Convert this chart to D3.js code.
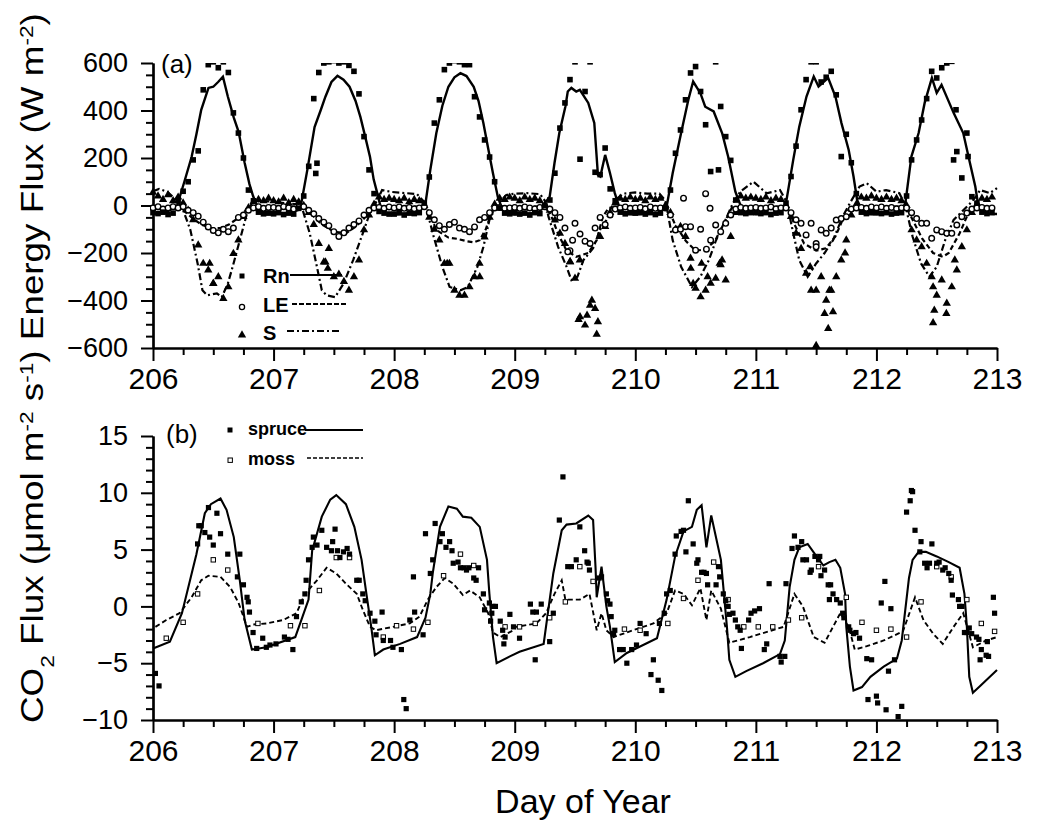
<!DOCTYPE html>
<html><head><meta charset="utf-8">
<script src="https://cdn.jsdelivr.net/npm/d3@7"></script>
<style>
body{margin:0;background:#fff}
svg{display:block}
text{font-family:"Liberation Sans",Arial,Helvetica,sans-serif;fill:#000}
</style>
</head><body>
<svg id="c" width="1041" height="821"></svg>
<script>
// ---------- DATA ----------
const days = [206,207,208,209,210,211,212];
const xTicks = [206,207,208,209,210,211,212,213];
const yTicksA = [-600,-400,-200,0,200,400,600];
const yTicksB = [-10,-5,0,5,10,15];

// Panel (a): hourly observations (index = hour of day)
const rnObs = [
 [-30,-34,-28,-38,-32,20,60,100,192,230,487,593,605,580,605,560,390,305,200,65,20,-28,-35,-32],
 [-35,-30,-38,-32,-36,-12,40,165,450,560,600,605,610,600,605,590,565,470,290,150,50,-25,-32,-36],
 [-36,-30,-40,-32,-34,-30,10,120,347,445,572,600,610,605,593,593,458,373,276,204,100,-10,-32,-35],
 [-30,-36,-32,-40,-30,-34,0,23,136,326,432,530,605,195,480,605,140,130,242,70,20,-28,-35,-30],
 [-32,-30,-36,-30,-38,-32,-10,65,220,318,445,558,585,480,340,143,605,417,290,190,23,-30,-34,-30],
 [-30,-34,-30,-38,-32,-30,10,122,250,403,530,605,605,520,540,565,466,206,300,180,50,-28,-34,-30],
 [-30,-34,-30,-36,-32,-30,40,192,276,360,450,565,537,580,600,607,227,116,305,37,10,-28,-34,-30]
];
const leObs = [
 [-10,-5,-15,-10,-5,-10,-5,-20,-30,-45,-70,-90,-105,-115,-100,-110,-95,-50,-40,-20,-10,-5,-12,-8],
 [-8,-12,-5,-10,-15,-8,-5,-20,-35,-55,-70,-85,-110,-130,-115,-95,-80,-65,-40,-20,-10,-8,-12,-6],
 [-10,-6,-12,-8,-14,-10,-5,-30,-60,-85,-100,-80,-70,-95,-100,-110,-90,-60,-50,-30,-10,-8,-12,-10],
 [-8,-12,-6,-10,-14,-8,-5,-15,-30,-50,-95,-190,-75,-120,-150,-160,-95,-50,-80,-40,-15,-10,-6,-12],
 [-10,-8,-14,-6,-12,-10,-10,-40,-103,-100,-89,-89,-188,-100,50,-146,-82,-110,-75,-40,-15,-8,-12,-10],
 [-8,-12,-10,-6,-14,-10,-10,-30,-60,-75,-124,-75,-160,-103,-117,-95,-61,-55,-47,-15,-10,-8,-12,-6],
 [-10,-6,-12,-8,-14,-10,-10,-30,-55,-75,-75,-138,-103,-110,-117,-117,-82,-47,-32,-15,-10,-8,-12,-10]
];
const sObs = [
 [55,40,25,45,20,35,10,-20,-60,-167,-244,-272,-329,-300,-392,-343,-202,-146,-47,-10,15,25,20,30],
 [20,15,30,10,25,15,0,-30,-80,-160,-238,-181,-300,-290,-320,-357,-300,-230,-103,-40,5,35,25,30],
 [25,20,30,15,25,20,0,-50,-100,-146,-244,-244,-357,-378,-378,-343,-300,-244,-133,-50,5,30,25,35],
 [30,20,35,25,30,20,0,-20,-61,-117,-160,-237,-307,-469,-504,-420,-434,-131,-89,-30,10,30,25,35],
 [25,30,20,35,25,30,0,-30,-100,-89,-131,-222,-349,-385,-357,-328,-307,-250,-314,-131,-30,40,30,35],
 [30,25,35,20,30,25,0,-47,-117,-181,-286,-357,-357,-300,-399,-357,-300,-230,-146,-40,5,35,30,40],
 [30,25,35,25,30,20,0,-103,-146,-174,-244,-300,-378,-314,-412,-343,-272,-174,-103,-30,5,30,25,35]
];
// extra (off-hour) observations
const rnExtra = [[207.35,135],[207.36,178],[210.69,150],[212.64,192],[212.66,403],[212.76,206]];
const leExtra = [[210.4,31],[210.62,-12],[210.59,-184],[209.44,-195],[209.48,-146],[211.5,-174]];
const sExtra = [[206.5,-329],[206.47,-244],[207.43,-238],[207.45,-265],[208.44,-244],[208.71,-300],
 [209.46,-237],[209.54,-230],[209.53,-480],[209.6,-462],[209.64,-399],[209.68,-542],[209.69,-490],
 [210.46,-265],[210.48,-329],[210.55,-244],[210.6,-300],[210.7,-244],[210.72,-230],
 [211.45,-258],[211.5,-590],[211.57,-455],[211.6,-518],[211.61,-357],[211.64,-448],[211.74,-200],
 [212.47,-494],[212.48,-441],[212.47,-343],[212.58,-455],[212.65,-230]];

// Panel (a): model lines
const rnModel = [[206.0,-35],[206.1,-32],[206.2,0],[206.26,100],[206.32,204],[206.36,300],[206.4,403],[206.46,495],[206.5,500],[206.54,520],[206.58,542],[206.62,460],[206.67,370],[206.71,310],[206.76,180],[206.8,90],[206.83,40],[206.87,-10],[206.92,-32],[207.0,-36],[207.1,-33],[207.2,-20],
 [207.23,10],[207.28,150],[207.34,330],[207.39,400],[207.43,458],[207.48,520],[207.53,546],[207.58,530],[207.63,500],[207.68,440],[207.72,373],[207.76,290],[207.8,204],[207.83,110],[207.86,52],[207.89,-10],[207.93,-35],[208.0,-38],[208.1,-35],[208.2,-25],
 [208.26,10],[208.3,150],[208.35,305],[208.4,420],[208.45,500],[208.5,540],[208.55,557],[208.6,545],[208.66,500],[208.7,440],[208.74,347],[208.78,240],[208.82,135],[208.86,36],[208.9,-20],[208.95,-35],[209.0,-38],[209.1,-35],[209.2,-30],
 [209.25,10],[209.29,37],[209.33,179],[209.37,305],[209.42,416],[209.44,480],[209.47,495],[209.51,480],[209.54,487],[209.61,432],[209.66,348],[209.69,129],[209.71,122],[209.75,213],[209.79,137],[209.83,52],[209.87,-10],[209.92,-35],[210.0,-37],[210.1,-34],[210.2,-30],
 [210.26,-5],[210.31,136],[210.38,305],[210.44,445],[210.48,522],[210.54,473],[210.58,416],[210.65,396],[210.72,305],[210.77,206],[210.83,58],[210.87,5],[210.92,-30],[211.0,-36],[211.1,-34],[211.2,-28],
 [211.25,10],[211.31,192],[211.36,332],[211.42,459],[211.48,543],[211.52,501],[211.6,537],[211.66,459],[211.71,347],[211.77,234],[211.81,122],[211.84,23],[211.88,-20],[211.93,-35],[212.0,-37],[212.1,-34],[212.2,-28],
 [212.24,10],[212.29,206],[212.35,305],[212.4,432],[212.46,537],[212.5,474],[212.54,508],[212.64,390],[212.72,305],[212.77,192],[212.82,80],[212.84,15],[212.88,-25],[212.94,-35],[213.0,-36]];
const leModel = [[206.0,-10],[206.1,-8],[206.2,0],[206.25,-20],[206.32,-50],[206.4,-80],[206.48,-95],[206.56,-95],[206.63,-80],[206.7,-55],[206.76,-25],[206.8,-5],[206.9,-5],[207.0,-6],[207.1,-5],[207.2,-5],
 [207.23,0],[207.3,-30],[207.4,-80],[207.5,-110],[207.6,-117],[207.68,-90],[207.75,-55],[207.8,-25],[207.85,-5],[208.0,-6],[208.1,-5],[208.2,-5],
 [208.26,0],[208.3,-40],[208.35,-103],[208.45,-135],[208.52,-140],[208.6,-150],[208.66,-155],[208.71,-146],[208.76,-100],[208.8,-40],[208.85,-5],[209.0,-6],[209.1,-5],[209.2,-5],
 [209.25,0],[209.3,-40],[209.36,-120],[209.43,-190],[209.51,-216],[209.61,-200],[209.68,-146],[209.73,-47],[209.78,-10],[209.9,-5],[210.0,-6],[210.1,-5],[210.2,-5],
 [210.26,0],[210.33,-80],[210.42,-150],[210.5,-190],[210.58,-185],[210.66,-150],[210.74,-70],[210.8,-10],[210.9,-5],[211.0,-6],[211.1,-5],[211.2,-5],
 [211.26,0],[211.32,-80],[211.4,-160],[211.5,-190],[211.58,-180],[211.66,-130],[211.72,-60],[211.78,-10],[211.9,-5],[212.0,-6],[212.1,-5],[212.2,-5],
 [212.24,0],[212.3,-60],[212.38,-140],[212.47,-200],[212.55,-216],[212.6,-200],[212.69,-117],[212.75,-47],[212.8,-10],[212.9,-5],[213.0,-6]];
const sModel = [[206.0,60],[206.05,70],[206.12,57],[206.2,20],[206.25,-20],[206.31,-103],[206.37,-244],[206.41,-357],[206.45,-378],[206.53,-370],[206.57,-386],[206.62,-330],[206.66,-259],[206.72,-146],[206.78,-32],[206.82,10],[206.9,20],[207.0,15],[207.1,10],[207.2,5],
 [207.23,0],[207.3,-117],[207.36,-259],[207.4,-357],[207.44,-378],[207.51,-386],[207.58,-329],[207.66,-230],[207.74,-117],[207.8,-30],[207.86,23],[207.9,65],[207.98,57],[208.1,52],[208.19,48],[208.24,20],
 [208.26,5],[208.32,-117],[208.4,-259],[208.46,-343],[208.55,-357],[208.61,-343],[208.69,-259],[208.74,-175],[208.79,-61],[208.85,0],[208.93,44],[209.0,50],[209.1,52],[209.21,48],
 [209.25,20],[209.28,-47],[209.36,-174],[209.43,-258],[209.47,-314],[209.52,-300],[209.57,-230],[209.65,-180],[209.71,-100],[209.76,-61],[209.8,-10],[209.85,30],[209.9,50],[210.0,55],[210.1,50],[210.2,50],[210.25,20],
 [210.26,-5],[210.31,-146],[210.38,-258],[210.47,-343],[210.54,-300],[210.61,-230],[210.67,-146],[210.76,-47],[210.81,10],[210.87,58],[210.98,100],[211.09,51],[211.2,65],[211.25,20],
 [211.27,-19],[211.31,-117],[211.36,-230],[211.43,-300],[211.5,-244],[211.57,-200],[211.64,-146],[211.72,-47],[211.78,10],[211.86,80],[211.92,94],[212.0,58],[212.08,65],[212.19,52],[212.24,0],
 [212.3,-131],[212.37,-244],[212.44,-300],[212.5,-258],[212.57,-146],[212.64,-61],[212.72,-20],[212.78,10],[212.83,40],[212.86,65],[212.94,52],[213.0,73]];

// Panel (b): CO2 flux
const spruceModel = [[206.0,-3.7],[206.14,-3.1],[206.24,-0.6],[206.36,4.6],[206.43,8.2],[206.48,9.0],[206.56,9.5],[206.61,8.5],[206.67,6.1],[206.72,2.3],[206.76,-1.2],[206.82,-3.8],[206.94,-3.6],[207.18,-2.7],[207.23,-1.2],[207.29,0.6],[207.32,4.9],[207.4,7.9],[207.47,9.4],[207.52,9.8],[207.6,9.0],[207.67,7.0],[207.73,4.1],[207.77,1.1],[207.81,-1.8],[207.84,-4.3],[207.91,-3.8],[208.05,-3.3],[208.19,-2.7],[208.26,-1.0],[208.3,1.1],[208.32,2.9],[208.38,7.0],[208.45,8.8],[208.52,8.6],[208.57,7.9],[208.64,7.8],[208.71,7.0],[208.77,4.1],[208.79,1.1],[208.82,-2.7],[208.85,-5.0],[208.96,-4.4],[209.04,-4.0],[209.24,-3.3],[209.32,2.9],[209.39,6.7],[209.43,7.2],[209.51,7.3],[209.61,8.0],[209.65,7.6],[209.67,3.5],[209.68,0.8],[209.72,3.5],[209.76,0],[209.79,-1.8],[209.83,-4.9],[209.93,-4.1],[210.18,-2.8],[210.26,0.6],[210.33,4.4],[210.4,6.6],[210.47,7.0],[210.51,8.5],[210.55,8.9],[210.59,5.2],[210.63,8.0],[210.71,4.1],[210.76,-1.8],[210.78,-4.7],[210.83,-6.2],[210.92,-5.7],[211.06,-5.0],[211.2,-4.2],[211.24,-3.0],[211.28,1.7],[211.32,4.1],[211.36,5.2],[211.43,5.5],[211.49,4.6],[211.56,3.6],[211.61,3.9],[211.66,4.1],[211.7,3.4],[211.74,1.1],[211.75,-1.8],[211.78,-5.3],[211.81,-7.4],[211.88,-7.1],[211.95,-6.2],[212.06,-5.3],[212.17,-4.6],[212.21,-3.0],[212.27,2.5],[212.3,4.1],[212.35,4.8],[212.41,4.8],[212.5,4.4],[212.6,3.9],[212.69,3.4],[212.73,1.1],[212.75,-1.8],[212.77,-6.2],[212.8,-7.6],[212.86,-7.0],[212.93,-6.3],[213.0,-5.6]];
const mossModel = [[206.02,-1.8],[206.11,-1.2],[206.22,-0.6],[206.32,0.8],[206.4,2.3],[206.46,2.7],[206.56,2.6],[206.64,1.7],[206.71,0.3],[206.78,-1.8],[206.83,-1.6],[206.94,-1.5],[207.08,-1.2],[207.19,-0.6],[207.26,1.1],[207.36,2.3],[207.44,3.4],[207.52,2.9],[207.6,2.0],[207.69,1.1],[207.74,-0.3],[207.8,-1.8],[207.85,-2.1],[207.99,-1.8],[208.13,-1.5],[208.21,-0.9],[208.28,0.6],[208.35,1.7],[208.42,2.5],[208.49,2.0],[208.57,1.0],[208.63,1.4],[208.71,0.8],[208.78,-0.6],[208.82,-2.3],[208.88,-2.7],[208.99,-2.1],[209.01,-1.8],[209.18,-1.5],[209.26,-0.6],[209.33,1.1],[209.39,2.3],[209.42,0.6],[209.54,0.6],[209.62,1.1],[209.68,-2.1],[209.72,-0.6],[209.76,-2.1],[209.82,-2.7],[209.98,-2.1],[210.15,-1.5],[210.26,-0.6],[210.33,1.4],[210.4,1.1],[210.47,0.1],[210.54,1.6],[210.59,-1.2],[210.63,1.4],[210.71,-0.2],[210.78,-3.2],[210.95,-2.7],[211.23,-1.8],[211.32,1.1],[211.39,0],[211.48,-2.7],[211.57,-3.2],[211.7,-0.6],[211.77,-1.8],[211.82,-3.8],[211.92,-3.5],[212.06,-3.0],[212.22,-2.2],[212.32,0.8],[212.39,-1.2],[212.47,-2.4],[212.55,-3.3],[212.64,-1.8],[212.72,-0.6],[212.8,-3.6],[212.91,-3.0],[213.0,-2.7]];
const sprucePts = [[206.02,-5.9],[206.05,-7.0],[206.37,5.5],[206.38,7.1],[206.4,7.1],[206.43,6.5],[206.46,8.7],[206.47,6.1],[206.5,5.4],[206.53,8.2],[206.56,6.4],[206.62,4.6],[206.7,2.6],[206.72,4.6],[206.75,1.9],[206.78,0.8],[206.79,0.4],[206.8,-0.5],[206.83,-2.3],[206.86,-3.7],[206.91,-2.8],[206.94,-3.6],[206.97,-3.4],[207.02,-3.3],[207.09,-2.7],[207.12,-2.9],[207.16,-3.8],[207.19,-0.9],[207.23,0.4],[207.26,1.1],[207.27,2.3],
 [207.29,4.1],[207.32,5.2],[207.33,6.1],[207.36,5.4],[207.4,6.7],[207.44,5.2],[207.48,4.9],[207.49,5.7],[207.51,6.8],[207.53,4.9],[207.55,4.3],[207.58,4.8],[207.61,5.1],[207.63,4.6],[207.69,2.3],[207.71,2.3],[207.74,1.1],[207.76,0.5],[207.8,-0.6],[207.84,-1.3],[207.85,-2.5],[207.9,-0.5],[207.91,-3.0],[207.97,-3.0],[207.99,-3.6],[208.06,-3.8],[208.08,-8.2],[208.1,-9.0],[208.13,-1.2],[208.16,2.6],[208.17,-0.5],[208.24,-2.5],[208.26,6.4],
 [208.3,2.9],[208.32,4.1],[208.34,7.3],[208.38,5.7],[208.4,6.4],[208.43,5.2],[208.46,5.7],[208.48,4.9],[208.49,3.8],[208.53,3.9],[208.55,3.4],[208.58,3.4],[208.6,3.2],[208.62,3.4],[208.66,2.5],[208.68,2.3],[208.7,3.4],[208.74,1.1],[208.75,-0.3],[208.79,0.3],[208.8,-1.3],[208.81,-0.6],[208.82,0],[208.84,0],[208.88,-1.3],[208.9,-2.1],[208.91,-3.3],[208.92,-2.7],[208.96,-0.7],[208.99,-1.8],[209.04,-2.8],[209.13,0.2],[209.15,-0.5],[209.18,-0.5],[209.22,0.2],[209.17,-4.7],[209.29,-3.1],[209.32,-0.6],
 [209.37,7.6],[209.4,11.4],[209.44,3.5],[209.47,3.5],[209.51,4.1],[209.54,7.0],[209.58,4.9],[209.6,3.9],[209.61,3.8],[209.62,3.2],[209.7,2.5],[209.72,2.6],[209.76,1.1],[209.77,0.5],[209.79,0.2],[209.8,-0.9],[209.82,-2.4],[209.83,-2.1],[209.87,-3.8],[209.9,-3.8],[209.93,-5.0],[209.97,-3.8],[210.01,-3.4],[210.04,-1.5],[210.09,-2.4],[210.13,-6.0],[210.15,-4.7],[210.19,-6.5],[210.2,-1.5],[210.22,-7.4],[210.24,-0.6],[210.26,1.1],
 [210.29,1.4],[210.33,4.6],[210.34,6.2],[210.38,6.6],[210.4,6.7],[210.42,4.8],[210.44,9.3],[210.48,5.5],[210.51,3.8],[210.52,4.1],[210.55,3.0],[210.57,3.0],[210.59,2.9],[210.6,1.9],[210.67,1.9],[210.69,3.5],[210.7,2.6],[210.73,1.1],[210.75,0.5],[210.77,0],[210.78,-0.7],[210.81,-0.6],[210.83,-1.2],[210.85,-1.8],[210.87,-2.1],[210.88,-3.7],[210.94,-1.2],[210.96,-0.6],[210.99,-0.4],[211.03,-0.2],[211.07,-3.8],[211.09,-3.3],[211.11,2.0],[211.2,-4.4],[211.21,-4.9],[211.24,-4.4],[211.25,2.0],
 [211.3,5.1],[211.32,6.2],[211.35,5.2],[211.38,5.7],[211.39,4.1],[211.42,4.1],[211.45,3.0],[211.46,3.2],[211.49,4.4],[211.52,4.1],[211.53,4.4],[211.54,2.7],[211.57,3.2],[211.6,1.9],[211.62,1.9],[211.61,0.6],[211.64,1.1],[211.67,0.6],[211.7,0.3],[211.72,-0.6],[211.73,-1.0],[211.77,-1.8],[211.78,-2.1],[211.81,-2.4],[211.83,-2.3],[211.86,-2.8],[211.92,-4.6],[211.96,-4.7],[211.93,-8.2],[212.0,-7.9],[212.01,-8.5],[212.08,-9.1],[212.21,-8.8],[212.18,-9.7],[212.1,-5.7],[212.15,-4.7],[212.04,0.3],[212.07,2.2],[212.12,-0.2],
 [212.25,8.3],[212.28,9.3],[212.29,10.2],[212.3,10.1],[212.32,6.7],[212.36,4.8],[212.37,5.7],[212.4,3.8],[212.42,3.4],[212.44,3.8],[212.46,5.5],[212.5,3.8],[212.52,3.9],[212.55,3.2],[212.57,3.4],[212.6,2.9],[212.62,2.3],[212.63,1.0],[212.68,0.6],[212.69,0],[212.71,0],[212.73,-2.3],[212.75,-2.3],[212.77,-1.9],[212.79,-2.4],[212.83,-2.7],[212.85,-2.9],[212.86,-4.7],[212.87,-3.8],[212.91,-4.3],[212.93,-4.4],[212.92,-3.1],[212.97,0.8],[212.98,-0.6]];
const mossPts = [[206.11,-2.8],[206.25,-1.4],[206.37,1.1],[206.5,4.1],[206.62,3.2],[206.87,-1.5],[207.14,-1.7],[207.26,-1.7],[207.38,1.4],[207.52,4.3],[207.63,4.3],[207.91,-2.7],[208.02,-1.7],[208.16,-2.0],[208.28,-1.4],[208.41,2.7],[208.55,4.6],[208.66,3.6],[208.92,-1.8],[209.04,-1.8],[209.17,-1.5],[209.29,-1.0],[209.42,0.4],[209.54,3.5],[209.65,2.2],[209.91,-2.0],[210.04,-2.1],[210.27,-1.5],[210.4,0.7],[210.52,2.3],[210.65,3.9],[210.77,0.6],[210.9,-1.8],[211.02,-1.8],[211.14,-1.8],[211.27,-1.2],[211.38,-1.0],[211.52,3.5],[211.75,0.8],[211.88,-1.4],[212.0,-2.1],[212.12,-2.0],[212.25,-2.7],[212.37,0.4],[212.5,3.5],[212.62,2.6],[212.75,0.6],[212.87,-1.5],[212.98,-2.2]];

// ---------- DRAW ----------
const svg = d3.select('#c');
const x = d3.scaleLinear().domain([206,213]).range([153,997]);
const ya = d3.scaleLinear().domain([-600,600]).range([348,63]);
const yb = d3.scaleLinear().domain([-10,15]).range([720,436]);

function hourly(rows){
  return rows.flatMap((r,i)=>r.map((v,h)=>v==null?null:[days[i]+h/24,v]).filter(Boolean));
}

const defs = svg.append('defs');
defs.append('clipPath').attr('id','clipA').append('rect').attr('x',150).attr('y',63).attr('width',850).attr('height',290);
defs.append('clipPath').attr('id','clipB').append('rect').attr('x',150).attr('y',436).attr('width',850).attr('height',290);

function drawAxes(y, yMajor, yMinorStep, yDomain, axisY){
  const g = svg.append('g');
  const minorX = d3.range(206,213.001,0.25).filter(v=>Math.abs(v-Math.round(v))>1e-6);
  g.append('g').attr('transform',`translate(0,${axisY})`)
    .call(d3.axisBottom(x).tickValues(minorX).tickFormat('').tickSize(7).tickSizeOuter(0));
  const gx = g.append('g').attr('transform',`translate(0,${axisY})`)
    .call(d3.axisBottom(x).tickValues(xTicks).tickFormat(d3.format('d')).tickSize(13).tickPadding(7).tickSizeOuter(0));
  gx.selectAll('text').attr('font-size',30).attr('font-family','"Liberation Sans",Arial,sans-serif');
  const minorY = d3.range(yDomain[0],yDomain[1]+1e-6,yMinorStep).filter(v=>!yMajor.includes(v));
  g.append('g').attr('transform','translate(153,0)')
    .call(d3.axisLeft(y).tickValues(minorY).tickFormat('').tickSize(7).tickSizeOuter(0));
  const gy = g.append('g').attr('transform','translate(153,0)')
    .call(d3.axisLeft(y).tickValues(yMajor).tickFormat(d3.format('d')).tickSize(12).tickPadding(13).tickSizeOuter(0));
  gy.selectAll('text').attr('font-size',27).attr('font-family','"Liberation Sans",Arial,sans-serif');
  g.selectAll('.domain').attr('stroke','#000').attr('stroke-width',2.2);
  g.selectAll('.tick line').attr('stroke','#000').attr('stroke-width',2);
  return g;
}
drawAxes(ya, yTicksA, 50, [-600,600], 348);
drawAxes(yb, yTicksB, 1, [-10,15], 720);

// ---- panel a ----
const pa = svg.append('g').attr('clip-path','url(#clipA)');
const lineA = d3.line().x(d=>x(d[0])).y(d=>ya(d[1]));
pa.append('path').datum(sModel).attr('d',lineA).attr('fill','none').attr('stroke','#000').attr('stroke-width',2.2).attr('stroke-dasharray','7,3,2,3');
pa.append('path').datum(leModel).attr('d',lineA).attr('fill','none').attr('stroke','#000').attr('stroke-width',2.2).attr('stroke-dasharray','5,3');
pa.append('path').datum(rnModel).attr('d',lineA).attr('fill','none').attr('stroke','#000').attr('stroke-width',2.4);

const rnAll = hourly(rnObs).concat(rnExtra);
const leAll = hourly(leObs).concat(leExtra);
const sAll = hourly(sObs).concat(sExtra);
const tri = d3.symbol().type(d3.symbolTriangle).size(30);

pa.selectAll('.tri').data(sAll).join('path').attr('d',tri)
  .attr('transform',d=>`translate(${x(d[0])},${ya(d[1])})`).attr('fill','#000');
pa.selectAll('.circ').data(leAll).join('circle')
  .attr('cx',d=>x(d[0])).attr('cy',d=>ya(d[1])).attr('r',2.8)
  .attr('fill','#fff').attr('stroke','#000').attr('stroke-width',1.4);
pa.selectAll('.sq').data(rnAll).join('rect')
  .attr('x',d=>x(d[0])-2.8).attr('y',d=>ya(d[1])-2.8).attr('width',5.6).attr('height',5.6).attr('fill','#000');

// ---- panel b ----
const pb = svg.append('g').attr('clip-path','url(#clipB)');
const lineB = d3.line().x(d=>x(d[0])).y(d=>yb(d[1]));
pb.append('path').datum(mossModel).attr('d',lineB).attr('fill','none').attr('stroke','#000').attr('stroke-width',1.9).attr('stroke-dasharray','5,3');
pb.append('path').datum(spruceModel).attr('d',lineB).attr('fill','none').attr('stroke','#000').attr('stroke-width',2.1);
pb.selectAll('.ms').data(mossPts).join('rect')
  .attr('x',d=>x(d[0])-2.2).attr('y',d=>yb(d[1])-2.2).attr('width',4.4).attr('height',4.4)
  .attr('fill','#fff').attr('stroke','#000').attr('stroke-width',1);
pb.selectAll('.sp').data(sprucePts).join('rect')
  .attr('x',d=>x(d[0])-2.6).attr('y',d=>yb(d[1])-2.6).attr('width',5.2).attr('height',5.2).attr('fill','#000');

// ---- labels ----
svg.append('text').attr('x',161).attr('y',73).attr('font-size',26).text('(a)');
svg.append('text').attr('x',166).attr('y',443).attr('font-size',26).text('(b)');

// legend a
const la = svg.append('g');
la.append('rect').attr('x',239.5).attr('y',273.5).attr('width',5).attr('height',5).attr('fill','#000');
la.append('text').attr('x',263).attr('y',283).attr('font-size',20).attr('font-weight','bold').text('Rn');
la.append('line').attr('x1',290).attr('x2',342).attr('y1',275).attr('y2',275).attr('stroke','#000').attr('stroke-width',2);
la.append('circle').attr('cx',242).attr('cy',307).attr('r',2.6).attr('fill','#fff').attr('stroke','#000').attr('stroke-width',1.3);
la.append('text').attr('x',263).attr('y',312).attr('font-size',20).attr('font-weight','bold').text('LE');
la.append('line').attr('x1',292).attr('x2',347).attr('y1',304).attr('y2',304).attr('stroke','#000').attr('stroke-width',2).attr('stroke-dasharray','5,2');
la.append('path').attr('d',tri).attr('transform','translate(242,335)').attr('fill','#000');
la.append('text').attr('x',263).attr('y',340).attr('font-size',20).attr('font-weight','bold').text('S');
la.append('line').attr('x1',287).attr('x2',342).attr('y1',331).attr('y2',331).attr('stroke','#000').attr('stroke-width',2).attr('stroke-dasharray','7,3,2,3');

// legend b
const lb = svg.append('g');
lb.append('rect').attr('x',227.5).attr('y',427.5).attr('width',5).attr('height',5).attr('fill','#000');
lb.append('text').attr('x',248).attr('y',435).attr('font-size',18).attr('font-weight','bold').text('spruce');
lb.append('line').attr('x1',305).attr('x2',363).attr('y1',430).attr('y2',430).attr('stroke','#000').attr('stroke-width',1.8);
lb.append('rect').attr('x',228).attr('y',458).attr('width',4.4).attr('height',4.4).attr('fill','#fff').attr('stroke','#000').attr('stroke-width',1);
lb.append('text').attr('x',248).attr('y',465).attr('font-size',18).attr('font-weight','bold').text('moss');
lb.append('line').attr('x1',307).attr('x2',363).attr('y1',458).attr('y2',458).attr('stroke','#000').attr('stroke-width',1.6).attr('stroke-dasharray','4,2');

// x title
svg.append('text').attr('x',583).attr('y',813).attr('text-anchor','middle').attr('font-size',34).text('Day of Year');

// y title (spans both panels)
const yt = svg.append('text').attr('font-size',31);
const parts = [['CO',null],['2','sub'],[' Flux (\u03bcmol m',null],['-2','super'],[' s',null],['-1','super'],[') Energy Flux (W m',null],['-2','super'],[')',null]];
parts.forEach(p=>{
  const t = yt.append('tspan').text(p[0]);
  if(p[1]){ t.attr('font-size',19).attr('baseline-shift',p[1]); }
});
const L = yt.node().getComputedTextLength();
const k = 710/L;
yt.attr('transform',`translate(43,723) rotate(-90) scale(${k},1)`);
</script>
</body></html>
